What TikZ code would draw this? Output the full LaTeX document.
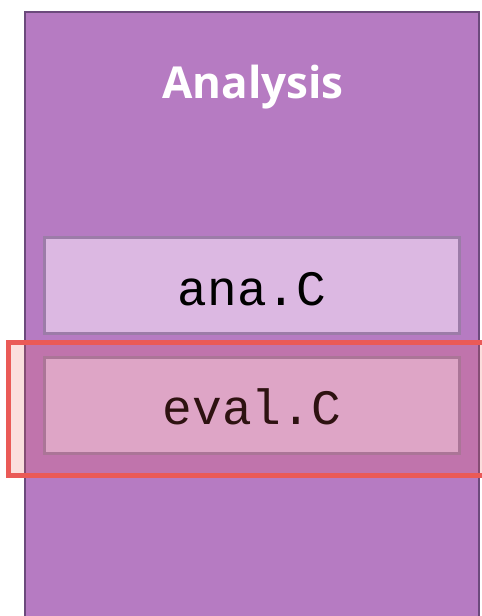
\documentclass[tikz,border=0pt]{standalone}
\usepackage{fontspec}
\setmainfont{Open Sans}
\newfontfamily\titlefont{Open Sans}
\newfontfamily\codefont{Liberation Mono}
\begin{document}
\begin{tikzpicture}[x=1pt,y=-1pt,
  panel/.style={draw=panelborder,line width=2pt,fill=panelfill},
  filebox/.style={draw=boxborder,line width=3pt,fill=boxfill,minimum width=415pt,minimum height=96pt,inner sep=0pt,
    text height=39pt,text depth=0pt,
    font=\codefont\fontsize{49.5}{50}\selectfont},
  highlight/.style={draw=hlred,line width=5pt,fill=hlred,fill opacity=0.2,draw opacity=1}]
\definecolor{panelfill}{HTML}{B67BC2}
\definecolor{panelborder}{HTML}{6C4A7C}
\definecolor{boxfill}{HTML}{DCB8E2}
\definecolor{boxborder}{HTML}{9C7CA8}
\definecolor{hlred}{HTML}{EA5A57}
\useasboundingbox (0,0) rectangle (482,616);
\path[panel] (25,12) rectangle (479,630);
\node[font=\titlefont\bfseries\fontsize{44}{46}\selectfont,text=white,anchor=base] (title) at (253,98) {Analysis};
\node[filebox] (ana) at (252,285.5) {ana.C};
\node[filebox] (eval) at (252,405) {eval.C};
\path[highlight] (8.5,342) rectangle (495,475);
\end{tikzpicture}
\end{document}
